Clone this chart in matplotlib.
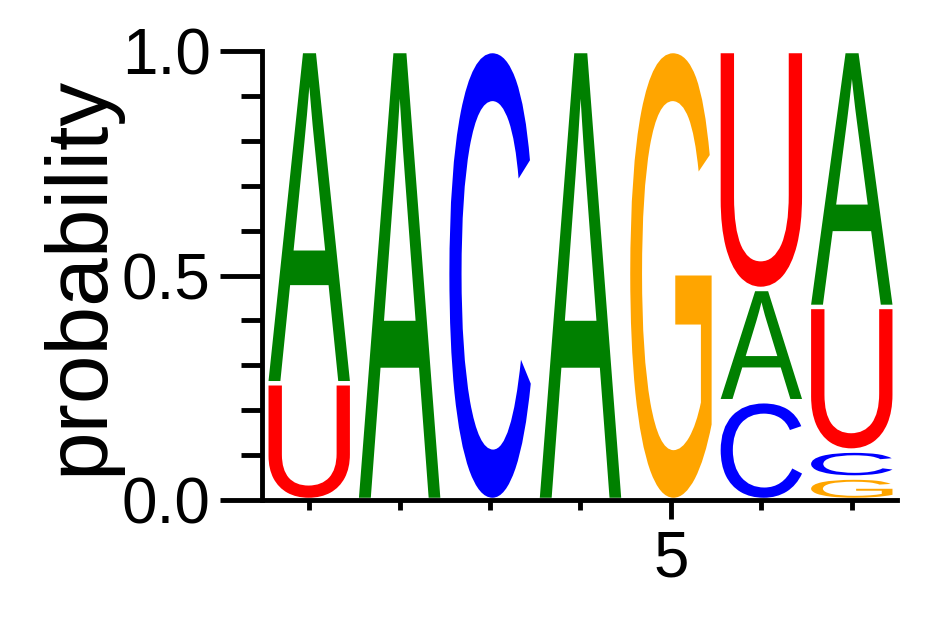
import matplotlib
matplotlib.use('Agg')
import matplotlib.pyplot as plt
from matplotlib.textpath import TextPath
from matplotlib.patches import PathPatch
from matplotlib.font_manager import FontProperties
from matplotlib.transforms import Affine2D

positions = [1, 2, 3, 4, 5, 6, 7]
letters = ['A', 'C', 'G', 'U']
prob_A = [0.74, 1.00, 0.00, 1.00, 0.00, 0.25, 0.57]
prob_C = [0.00, 0.00, 1.00, 0.00, 0.00, 0.22, 0.06]
prob_G = [0.00, 0.00, 0.00, 0.00, 1.00, 0.00, 0.05]
prob_U = [0.26, 0.00, 0.00, 0.00, 0.00, 0.53, 0.32]
colors = {'A': '#008000', 'C': '#0000ff', 'G': '#ffa500', 'U': '#ff0000'}
x_tick_labels = ['5']
y_tick_labels = ['0.0', '0.5', '1.0']

probs = {'A': prob_A, 'C': prob_C, 'G': prob_G, 'U': prob_U}

W, H = 942, 617
fig = plt.figure(figsize=(W / 100, H / 100), dpi=100)
ax = fig.add_axes([264 / W, 117 / H, 633 / W, 449 / H])

glyph_font = FontProperties(family='Liberation Sans')


def draw_letter(ax, ch, x, y0, h, color, width=0.9, pad=0.005):
    tp = TextPath((0, 0), ch, size=1, prop=glyph_font)
    bb = tp.get_extents()
    hh = max(h - 2 * pad, 1e-6)
    t = (Affine2D().translate(-bb.x0, -bb.y0)
         .scale(width / bb.width, hh / bb.height)
         .translate(x - width / 2, y0 + pad))
    path = t.transform_path(tp)
    ax.add_patch(PathPatch(path, facecolor=color, edgecolor='none'))


for i, x in enumerate(positions):
    col = [(probs[l][i], l) for l in letters if probs[l][i] > 0]
    col.sort()
    y = 0.0
    for p, l in col:
        draw_letter(ax, l, x, y, p, colors[l])
        y += p

ax.set_xlim(0.5, 7.5)
ax.set_ylim(0, 1)

for s in ['top', 'right']:
    ax.spines[s].set_visible(False)
ax.spines['left'].set_position(('outward', 1.5))
ax.spines['left'].set_linewidth(3.5)
ax.spines['bottom'].set_linewidth(3.5)

ax.set_yticks([0, 0.5, 1.0])
ax.set_yticklabels(y_tick_labels)
ax.set_yticks([i / 10 for i in range(11) if i % 5 != 0], minor=True)
ax.set_xticks([5])
ax.set_xticklabels(x_tick_labels)
ax.set_xticks([p for p in positions if p != 5], minor=True)

tick_font = 'Liberation Sans'
ax.tick_params(axis='y', which='major', length=30, width=3.5, labelsize=46, pad=7)
ax.tick_params(axis='y', which='minor', length=15, width=3.5)
ax.tick_params(axis='x', which='major', length=14, width=3.5, labelsize=46, pad=7)
ax.tick_params(axis='x', which='minor', length=7, width=3.5)
for lab in ax.get_xticklabels() + ax.get_yticklabels():
    lab.set_fontfamily(tick_font)

ax.set_ylabel('probability', fontsize=63, family='Liberation Sans')
ax.yaxis.set_label_coords(-0.227, 0.50)

fig.savefig('out.png', dpi=100)
